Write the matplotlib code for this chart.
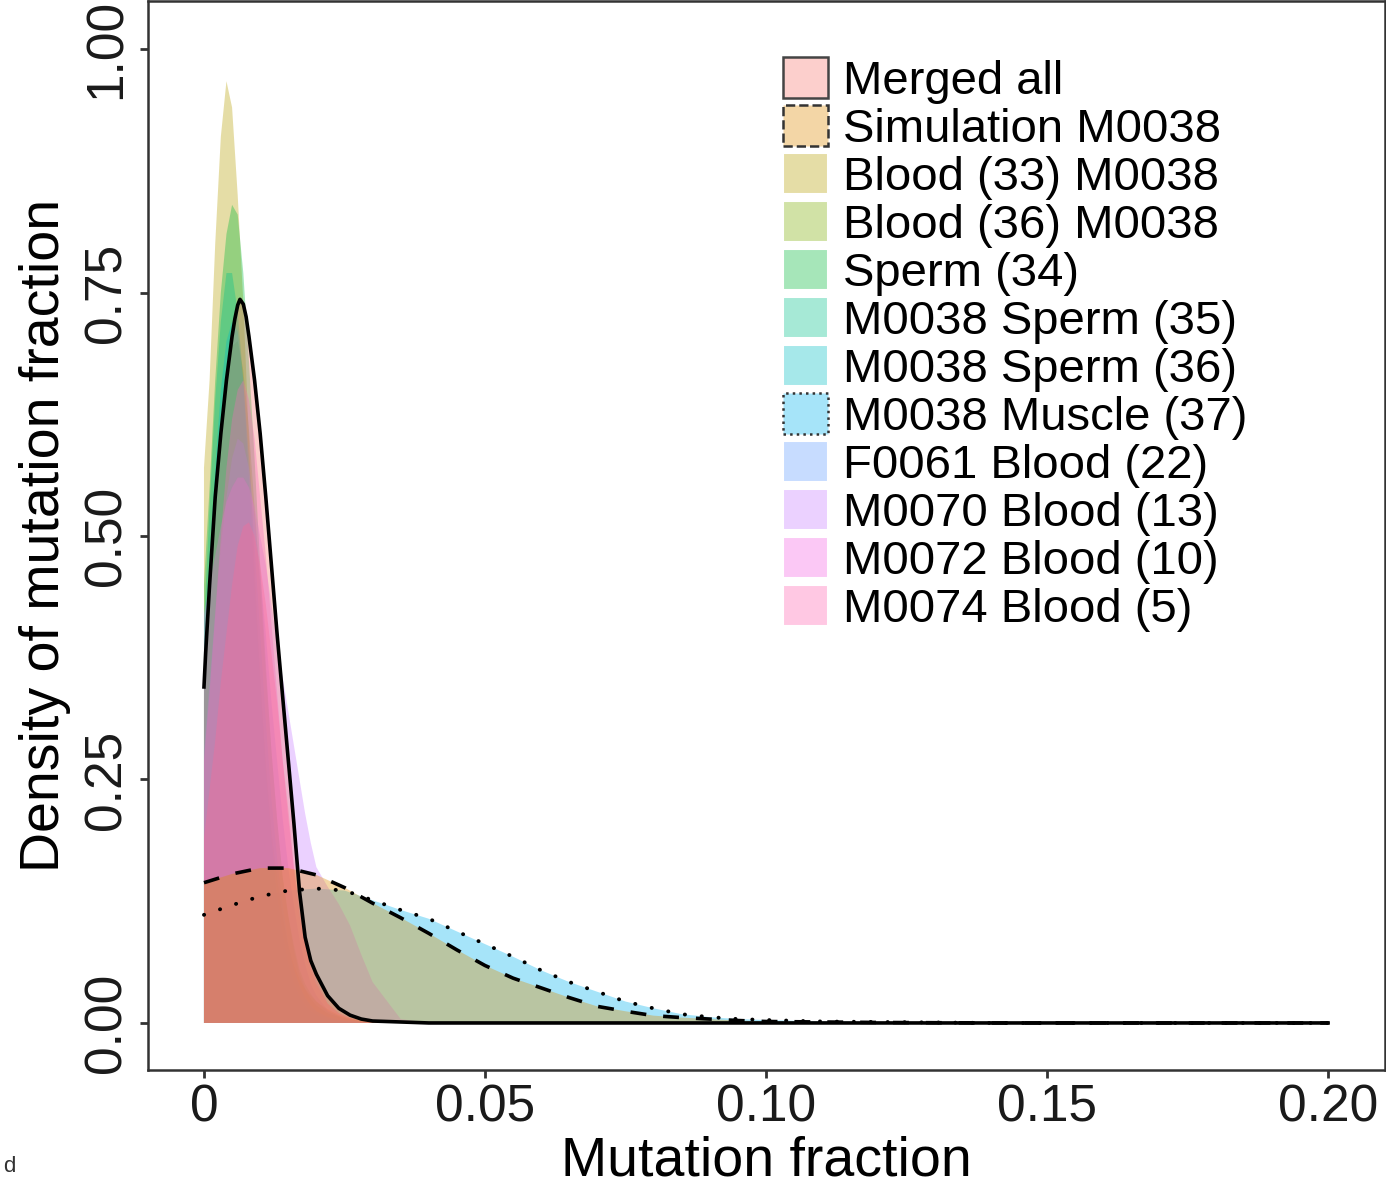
import matplotlib
matplotlib.use('agg')
import matplotlib.pyplot as plt
import matplotlib.patches as mpatches
from matplotlib.colors import to_rgba

plt.rcParams['font.family'] = ['Liberation Sans', 'DejaVu Sans']

labels = ["Merged all", "Simulation M0038", "Blood (33) M0038", "Blood (36) M0038",
          "Sperm (34)", "M0038 Sperm (35)", "M0038 Sperm (36)", "M0038 Muscle (37)",
          "F0061 Blood (22)", "M0070 Blood (13)", "M0072 Blood (10)", "M0074 Blood (5)"]
colors = ['#F8766D', '#DE8C00', '#B79F00', '#7CAE00', '#00BA38', '#00C08B',
          '#00BFC4', '#00B4F0', '#619CFF', '#C77CFF', '#F564E3', '#FF64B0']

# merged density (black outline)
x_merged = [0, .0003, .001, .002, .003, .004, .005, .0055, .006, .0064, .007, .0075,
            .008, .009, .010, .011, .012, .013, .014, .015, .016, .017, .018, .019,
            .020, .022, .024, .026, .028, .030, .035, .040, .200]
merged_all = [0.345, 0.38, 0.45, 0.54, 0.605, 0.66, 0.705, 0.723, 0.737, 0.743, 0.738,
              0.725, 0.705, 0.66, 0.605, 0.54, 0.47, 0.40, 0.335, 0.27, 0.205, 0.135,
              0.088, 0.064, 0.05, 0.028, 0.015, 0.008, 0.004, 0.002, 0.001, 0.0, 0.0]

# narrow sample densities on a fine grid
x_fine = [0, .001, .002, .003, .004, .005, .006, .007, .008, .009, .010, .011, .012,
          .013, .014, .015, .016, .017, .018, .019, .020, .022, .024, .026, .028,
          .030, .035, .040, .200]
blood33 = [0.57, 0.66, 0.80, 0.91, 0.967, 0.94, 0.85, 0.74, 0.60, 0.47, 0.36, 0.27,
           0.20, 0.15, 0.11, 0.08, 0.06, 0.045, 0.035, 0.028, 0.022, 0.014, 0.008,
           0.005, 0.003, 0.002, 0.001, 0.0, 0.0]
blood36 = [0.33, 0.42, 0.51, 0.59, 0.66, 0.695, 0.70, 0.67, 0.61, 0.53, 0.45, 0.36,
           0.28, 0.21, 0.15, 0.11, 0.075, 0.05, 0.035, 0.025, 0.018, 0.01, 0.006,
           0.003, 0.002, 0.001, 0.0, 0.0, 0.0]
sperm34 = [0.45, 0.55, 0.66, 0.75, 0.81, 0.84, 0.83, 0.77, 0.68, 0.58, 0.47, 0.37,
           0.28, 0.21, 0.15, 0.11, 0.08, 0.055, 0.04, 0.03, 0.022, 0.012, 0.007,
           0.004, 0.002, 0.001, 0.0, 0.0, 0.0]
sperm35 = [0.41, 0.53, 0.64, 0.72, 0.77, 0.77, 0.73, 0.66, 0.56, 0.45, 0.35, 0.26,
           0.19, 0.13, 0.09, 0.06, 0.04, 0.027, 0.018, 0.012, 0.008, 0.004, 0.002,
           0.001, 0.0, 0.0, 0.0, 0.0, 0.0]
sperm36 = [0.38, 0.48, 0.57, 0.65, 0.70, 0.72, 0.71, 0.66, 0.58, 0.49, 0.40, 0.31,
           0.23, 0.17, 0.12, 0.08, 0.055, 0.038, 0.026, 0.018, 0.012, 0.006, 0.003,
           0.0015, 0.001, 0.0, 0.0, 0.0, 0.0]
f0061 = [0.28, 0.35, 0.42, 0.49, 0.54, 0.58, 0.60, 0.595, 0.57, 0.52, 0.46, 0.40,
         0.33, 0.27, 0.21, 0.16, 0.12, 0.085, 0.06, 0.04, 0.028, 0.013, 0.006, 0.003,
         0.001, 0.0, 0.0, 0.0, 0.0]
m0070 = [0.42, 0.45, 0.48, 0.51, 0.535, 0.55, 0.56, 0.56, 0.55, 0.53, 0.50, 0.47,
         0.43, 0.39, 0.355, 0.32, 0.285, 0.25, 0.215, 0.185, 0.16, 0.14, 0.122,
         0.10, 0.07, 0.042, 0.004, 0.0, 0.0]
m0072 = [0.27, 0.34, 0.42, 0.50, 0.57, 0.62, 0.65, 0.66, 0.64, 0.60, 0.54, 0.48,
         0.41, 0.34, 0.27, 0.21, 0.16, 0.12, 0.09, 0.065, 0.045, 0.02, 0.01, 0.005,
         0.002, 0.001, 0.0, 0.0, 0.0]
m0074 = [0.19, 0.24, 0.29, 0.35, 0.40, 0.45, 0.49, 0.51, 0.514, 0.50, 0.47, 0.43,
         0.38, 0.33, 0.27, 0.22, 0.16, 0.11, 0.08, 0.055, 0.04, 0.02, 0.01, 0.005,
         0.002, 0.001, 0.0, 0.0, 0.0]

# the two broad curves
x_broad = [0, .005, .010, .015, .020, .025, .030, .035, .040, .045, .050, .055, .060,
           .065, .070, .075, .080, .085, .090, .095, .100, .110, .120, .140, .160,
           .180, .200]
simulation = [0.144, 0.153, 0.159, 0.159, 0.152, 0.139, 0.123, 0.108, 0.092, 0.075,
              0.059, 0.046, 0.036, 0.026, 0.017, 0.012, 0.0075, 0.0055, 0.004, 0.0025,
              0.0015, 0.001, 0.0005, 0.0, 0.0, 0.0, 0.0]
muscle37 = [0.111, 0.121, 0.130, 0.136, 0.138, 0.136, 0.126, 0.116, 0.107, 0.094,
            0.081, 0.068, 0.054, 0.042, 0.032, 0.022, 0.015, 0.009, 0.006, 0.004,
            0.003, 0.0015, 0.001, 0.0, 0.0, 0.0, 0.0]

xticks = [0, 0.05, 0.10, 0.15, 0.20]
xticklabels = ["0", "0.05", "0.10", "0.15", "0.20"]
yticks = [0, 0.25, 0.50, 0.75, 1.00]
yticklabels = ["0.00", "0.25", "0.50", "0.75", "1.00"]

ALPHA = 0.35

fig = plt.figure(figsize=(13.86, 11.86), dpi=100)
ax = fig.add_axes([148 / 1386, 116 / 1186, 1237 / 1386, 1069 / 1186])

# sample groups first, then merged and simulation on top
samples = [(blood33, 2), (blood36, 3), (sperm34, 4), (sperm35, 5), (sperm36, 6),
           (f0061, 8), (m0070, 9), (m0072, 10), (m0074, 11)]
ax.fill_between(x_broad, 0, muscle37, facecolor=colors[7], alpha=ALPHA, lw=0)
for vals, ci in samples:
    ax.fill_between(x_fine, 0, vals, facecolor=colors[ci], alpha=ALPHA, lw=0)
ax.fill_between(x_merged, 0, merged_all, facecolor=colors[0], alpha=ALPHA, lw=0)
ax.fill_between(x_broad, 0, simulation, facecolor=colors[1], alpha=ALPHA, lw=0)

ax.plot(x_broad, muscle37, color='black', lw=2.8, ls=(0, (0.05, 4.3)),
        dash_capstyle='round')
ax.plot(x_broad, simulation, color='black', lw=2.6, ls=(0, (4.4, 4.7)))
ax.plot(x_merged, merged_all, color='black', lw=2.6, solid_joinstyle='round')

ax.set_xlim(-0.00996, 0.21014)
ax.set_ylim(-0.0483, 1.0493)
ax.set_xticks(xticks)
ax.set_xticklabels(xticklabels)
ax.set_yticks(yticks)
ax.set_yticklabels(yticklabels, rotation=90, va='center')
ax.tick_params(axis='both', labelsize=37, length=6, width=2, color='#333333',
               labelcolor='#1a1a1a')
ax.tick_params(axis='x', pad=4)
ax.tick_params(axis='y', pad=6)
for s in ax.spines.values():
    s.set_linewidth(1.8)
    s.set_color('#333333')

ax.set_xlabel("Mutation fraction", fontsize=40, labelpad=2)
ax.set_ylabel("Density of mutation fraction", fontsize=40, labelpad=8)

handles = []
for i, (lab, c) in enumerate(zip(labels, colors)):
    if i == 0:
        h = mpatches.Patch(facecolor=to_rgba(c, ALPHA), edgecolor='#444444', lw=1.8, label=lab)
    elif i == 1:
        h = mpatches.Patch(facecolor=to_rgba(c, ALPHA), edgecolor='#333333', lw=1.8,
                           ls='--', label=lab)
    elif i == 7:
        h = mpatches.Patch(facecolor=to_rgba(c, ALPHA), edgecolor='#333333', lw=1.8,
                           ls=':', label=lab)
    else:
        h = mpatches.Patch(facecolor=to_rgba(c, ALPHA), edgecolor='white', lw=1.5, label=lab)
    handles.append(h)

ax.legend(handles=handles, loc='upper left', bbox_to_anchor=(783 / 1386, 1 - 57 / 1186),
          bbox_transform=fig.transFigure, frameon=False, fontsize=34, borderpad=0,
          borderaxespad=0, handlelength=0.95, handleheight=0.95, handletextpad=0.33,
          labelspacing=0.03)

fig.text(0.002, 0.012, "d", fontsize=16, color='#333333')

fig.savefig("out.png", dpi=100)
